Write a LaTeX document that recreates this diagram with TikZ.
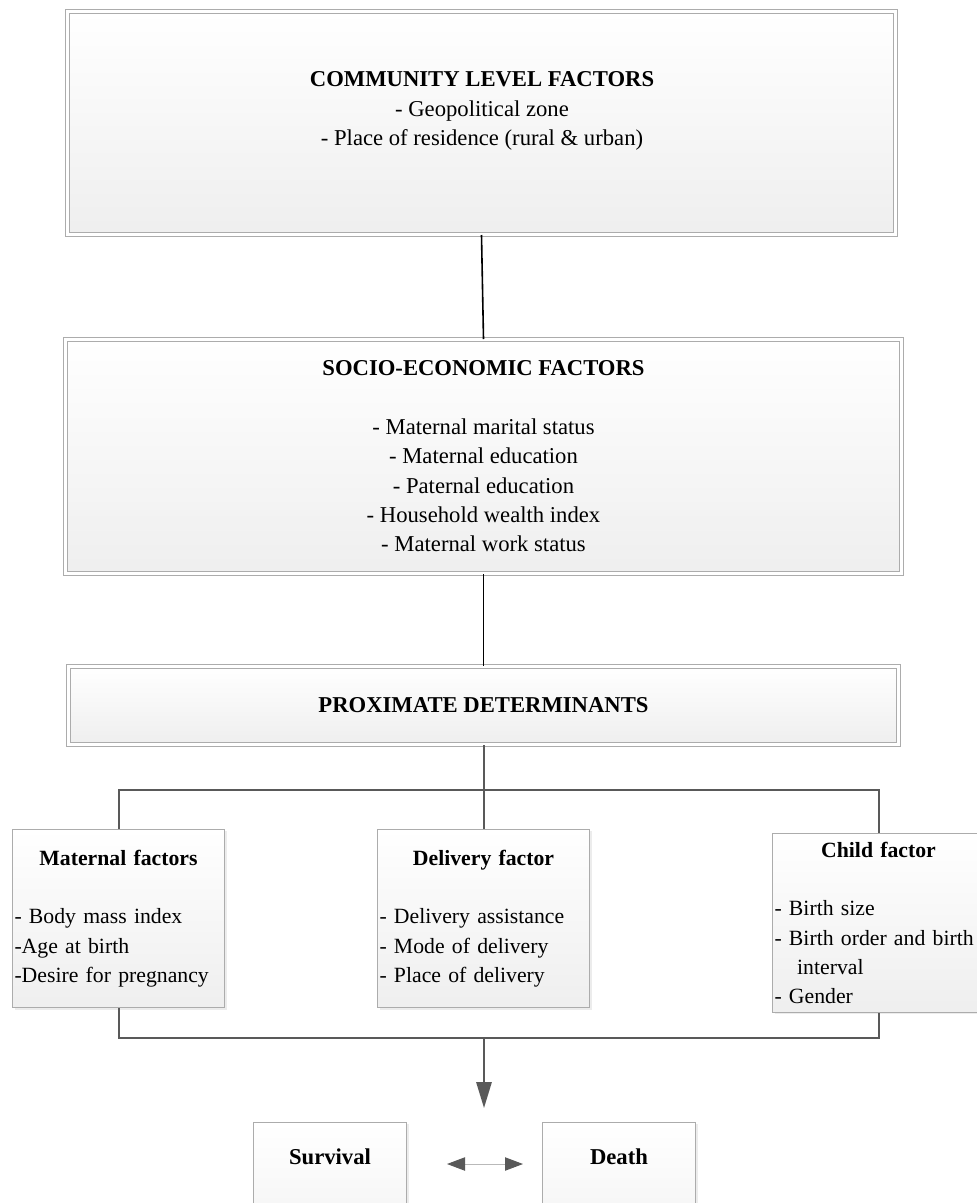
\documentclass[tikz,border=0pt]{standalone}
\usepackage{fontspec}
\setmainfont{Liberation Serif}
\usepackage{tikz}
\usetikzlibrary{arrows.meta, shadows}

\begin{document}
\begin{tikzpicture}[
    x=0.75pt, y=-0.75pt,
    font=\fontsize{17}{22}\selectfont,
    bigbox/.style={
        rectangle,
        draw=gray!65,
        line width=0.75pt,
        double=white,
        double distance=2.25pt,
        top color=white,
        bottom color=gray!13,
        drop shadow={shadow xshift=1.5pt, shadow yshift=-1.5pt, fill=gray!15, opacity=1},
        align=center
    },
    smallbox/.style={
        rectangle,
        draw=gray!65,
        line width=0.75pt,
        top color=white,
        bottom color=gray!13,
        drop shadow={shadow xshift=1.5pt, shadow yshift=-1.5pt, fill=gray!15, opacity=1},
        minimum width=159pt,
        minimum height=134pt,
        text width=156pt,
        inner xsep=1.5pt,
        font=\fontsize{16.3}{22}\selectfont
    },
    endbox/.style={
        rectangle,
        draw=gray!65,
        line width=0.75pt,
        top color=white,
        bottom color=gray!10,
        drop shadow={shadow xshift=1.5pt, shadow yshift=-1.5pt, fill=gray!15, opacity=1},
        minimum width=114.75pt,
        minimum height=96pt
    },
    link/.style={line width=1.5pt, draw=black!65}
]

\useasboundingbox (0,0) rectangle (976,1203);

% upper levels
\node[bigbox, minimum width=621pt, minimum height=167.25pt] (community) at (481.5,123) {};
\node[align=center] (community-text) at (482,111) {\textbf{COMMUNITY LEVEL FACTORS}\\- Geopolitical zone\\- Place of residence (rural \& urban)};

\node[bigbox, minimum width=627pt, minimum height=175.5pt] (socio) at (483.5,456.5) {\textbf{SOCIO-ECONOMIC FACTORS}\\[22pt]- Maternal marital status\\- Maternal education\\- Paternal education\\- Household wealth index\\- Maternal work status};

\node[bigbox, minimum width=622.5pt, minimum height=58.5pt] (proximate) at (483.5,705.5) {\textbf{PROXIMATE DETERMINANTS}};

% factor groups
\node[smallbox] (maternal) at (118.5,918.5) {\centering\textbf{Maternal factors}\par\vspace{22pt}\raggedright - Body mass index\\-Age at birth\\-Desire for pregnancy};

\node[smallbox] (delivery) at (483.5,918.5) {\centering\textbf{Delivery factor}\par\vspace{22pt}\raggedright - Delivery assistance\\- Mode of delivery\\- Place of delivery};

\node[smallbox] (child) at (878.5,923) {\centering\textbf{Child factor}\par\vspace{22pt}\raggedright - Birth size\\- Birth order and birth\\\hspace*{17pt}interval\\- Gender};

% outcomes
\node[endbox] (survival) at (330,1186) {};
\node (survival-text) at (330,1157) {\textbf{Survival}};
\node[endbox] (death) at (619,1186) {};
\node (death-text) at (619,1157) {\textbf{Death}};

\coordinate (bus-top) at (484,790);
\coordinate (bus-bottom) at (484,1038);
\coordinate (outcome) at (484,1108);
\coordinate (sd-left) at (447,1164);
\coordinate (sd-right) at (523,1164);

\draw[line width=1.2pt] (community.south) -- (socio.north);
\draw[line width=1.2pt] (socio.south) -- (proximate.north);
\draw[link] (proximate.south) -- (delivery.north);
\draw[link] (maternal.north) |- (bus-top) -| (child.north);
\draw[link] (maternal.south) |- (bus-bottom) -| (child.south);
\draw[link, -{Triangle[width=11.5pt, length=19.5pt]}] (bus-bottom) -- (outcome);
\draw[line width=0.75pt, draw=gray!55, {Triangle[width=10pt, length=13.5pt, color=black!65]}-{Triangle[width=10pt, length=13.5pt, color=black!65]}] (sd-left) -- (sd-right);

\end{tikzpicture}
\end{document}
